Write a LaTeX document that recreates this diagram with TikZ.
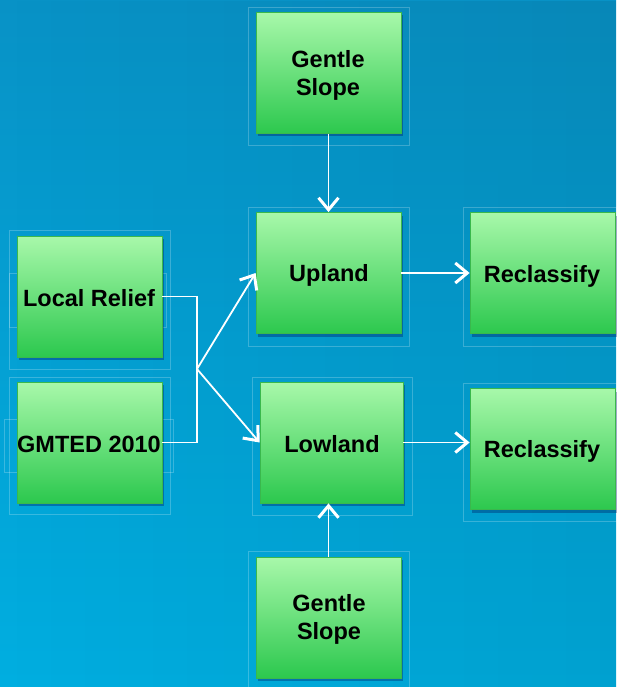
\documentclass[tikz,border=0pt]{standalone}
\usepackage{fontspec}
\setmainfont{Liberation Sans}
\usetikzlibrary{shadows,arrows.meta,fadings}
\definecolor{bgtop}{HTML}{0892C6}
\definecolor{bgbot}{HTML}{00AEE0}
\definecolor{boxtop}{HTML}{A8F8AA}
\definecolor{boxbot}{HTML}{2CC84E}
\definecolor{boxline}{HTML}{3AB84C}
\tikzset{
  procbox/.style={draw=boxline, line width=0.8pt, minimum width=145pt, minimum height=121pt,
    top color=boxtop, bottom color=boxbot, inner sep=0pt,
    drop shadow={shadow xshift=2pt, shadow yshift=-3pt, opacity=0.3, fill=black!70!blue}},
  boxtext/.style={font=\fontsize{23.5}{28}\selectfont\bfseries, align=center},
  frame/.style={draw=white, draw opacity=0.22, line width=0.6pt},
  link/.style={draw=white, line width=1.8pt},
  flow/.style={link, -{Straight Barb[length=12pt,width=20pt,line width=3pt]}},
}
\begin{document}
\begin{tikzpicture}[x=1pt, y=-1pt]
  % background: vertical gradient, slightly darker towards the right
  \shade[top color=bgtop, bottom color=bgbot] (0,0) rectangle (616,687);
  \fill[black, opacity=0.07, path fading=west] (0,0) rectangle (616,687);
  \useasboundingbox (0,0) rectangle (616,687);

  % faint outer frames
  \draw[frame] (248,7) rectangle (409,145);
  \draw[frame] (248,207) rectangle (409,346);
  \draw[frame] (463,207) rectangle (616,346);
  \draw[frame] (252,377) rectangle (412,515);
  \draw[frame] (463,383) rectangle (616,521);
  \draw[frame] (248,551) rectangle (409,687);
  \draw[frame] (9,230) rectangle (170,369);
  \draw[frame] (9,273) rectangle (166,327);
  \draw[frame] (9,377) rectangle (170,514);
  \draw[frame] (4,419) rectangle (173,472);

  % process boxes
  \node[procbox] (gs1) at (328.5,73) {};
  \node[procbox] (up)  at (328.5,273) {};
  \node[procbox] (rc1) at (542.5,273) {};
  \node[procbox] (lr)  at (89.5,296.5) {};
  \node[procbox] (gm)  at (89.5,442.5) {};
  \node[procbox, minimum width=143pt] (lo) at (331.5,442.5) {};
  \node[procbox] (rc2) at (542.5,449) {};
  \node[procbox] (gs2) at (328.5,617.5) {};

  % box labels
  \node[boxtext] (t1) at (328,75) {Gentle\\ Slope};
  \node[boxtext] (t2) at (329,275) {Upland};
  \node[boxtext] (t3) at (542,276) {Reclassify};
  \node[boxtext] (t4) at (89,298) {Local Relief};
  \node[boxtext] (t5) at (89,444) {GMTED 2010};
  \node[boxtext] (t6) at (332,444) {Lowland};
  \node[boxtext] (t7) at (542,451) {Reclassify};
  \node[boxtext] (t8) at (329,619) {Gentle\\ Slope};

  % connectors
  \coordinate (j) at (197,369);
  \draw[link] (lr.east) -- (197,296.5) |- (gm.east);
  \draw[flow] (j) -- (up.west);
  \draw[flow] (j) -- (lo.west);
  \draw[flow] (gs1.south) -- (gs1.south |- up.north);
  \draw[flow] (gs2.north) -- (gs2.north |- lo.south);
  \draw[flow] (up.east) -- (rc1.west |- up.east);
  \draw[flow] (lo.east) -- (rc2.west |- lo.east);
\end{tikzpicture}
\end{document}
